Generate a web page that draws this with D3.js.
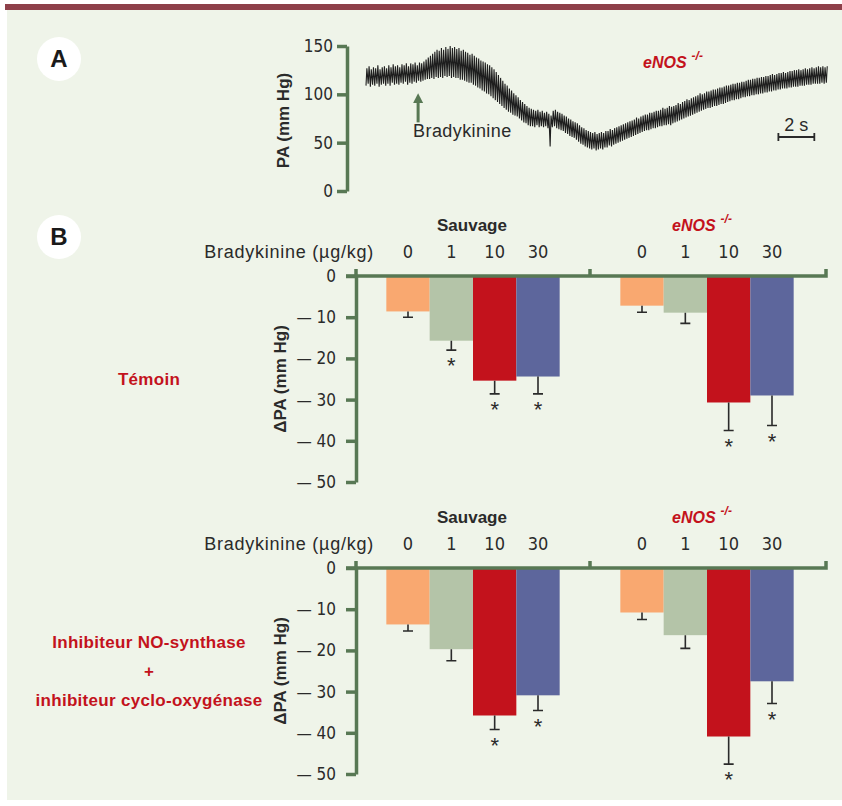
<!DOCTYPE html>
<html>
<head>
<meta charset="utf-8">
<script src="https://cdn.jsdelivr.net/npm/d3@7"></script>
<style>
  body { margin: 0; background: #fff; }
  text { font-family: "Liberation Sans", Arial, sans-serif; }
  .num { font-family: "Liberation Sans Narrow", "DejaVu Sans Condensed", sans-serif; }
</style>
</head>
<body>
<div id="chart"></div>
<script>
// --- Panel A : blood pressure trace, one systolic / diastolic pair per beat (mm Hg)
const beatPeriod = 0.122; // s
const paSys = [127,129,126,128,127,130,126,128,129,127, 130,128,131,129,130,128,131,130,132,129,
  132,131,133,130,133,132,134,136,138,140, 142,144,146,145,148,146,149,147,150,148,
  149,147,148,145,146,144,143,141,142,140, 138,137,135,134,133,131,130,128,126,123,
  120,117,114,111,109,106,104,101,99,97, 94,92,90,88,86,85,84,83,84,82,
  83,81,82,80,78,83,84,82,81,80, 78,77,75,74,72,71,70,68,66,65,
  63,62,61,60,61,59,60,61,60,62, 62,64,63,65,66,67,68,69,70,71,
  72,73,74,76,75,77,78,79,79,81, 81,82,83,83,84,86,85,86,88,87,
  88,89,91,90,92,93,95,94,96,97, 98,99,101,100,101,103,103,104,105,105,
  106,107,107,108,109,109,110,111,111,112, 112,113,113,114,115,115,116,116,117,117,
  118,118,119,119,120,121,120,121,122,122, 123,122,123,124,124,125,125,126,125,126,
  127,126,127,128,127,128,129,128,129,128,129];
const paDia = [109,111,108,110,109,111,108,110,111,109, 111,109,112,110,111,110,112,111,113,110,
  112,111,113,112,114,113,114,115,116,116, 117,116,118,117,118,117,119,118,119,117,
  118,117,117,115,115,114,113,112,112,110, 109,107,106,104,103,101,100,98,96,94,
  92,90,88,86,84,82,81,79,78,77, 75,73,71,70,68,67,67,66,68,66,
  67,66,67,65,46,66,67,65,64,63, 62,60,59,57,56,55,53,51,49,48,
  46,45,44,43,44,42,43,44,43,45, 45,47,46,48,49,50,51,52,53,54,
  55,56,57,58,59,60,61,62,63,63, 64,65,65,66,67,67,68,68,69,68,
  70,71,72,73,74,75,76,77,78,79, 80,81,82,83,84,85,86,86,87,88,
  88,89,90,90,91,92,93,94,94,95, 95,96,97,97,98,98,99,99,100,100,
  101,101,102,102,103,103,104,104,105,105, 106,106,106,107,107,108,108,108,109,109,
  109,110,110,110,111,111,111,111,112,111,112];
const paTicks = [0, 50, 100, 150];

// --- Panel B : fall in blood pressure (mm Hg), mean and SEM
const doses = ["0", "1", "10", "30"];
const strains = ["Sauvage", "eNOS"];
const bTicks = [0, -10, -20, -30, -40, -50];
const doseColors = ["#f9a870", "#b4c4a8", "#c3121c", "#5d669c"];

const temoinSauvage = [-8.6, -15.7, -25.4, -24.4];
const temoinSauvageSem = [1.4, 2.3, 3.2, 4.2];
const temoinEnos = [-7.2, -8.9, -30.7, -29.0];
const temoinEnosSem = [1.6, 2.6, 6.8, 7.3];
const temoinSauvageStar = [false, true, true, true];
const temoinEnosStar = [false, false, true, true];

const inhibSauvage = [-13.7, -19.7, -35.8, -30.9];
const inhibSauvageSem = [1.6, 2.8, 3.4, 3.7];
const inhibEnos = [-10.8, -16.3, -40.9, -27.5];
const inhibEnosSem = [1.7, 3.2, 6.7, 5.4];
const inhibSauvageStar = [false, false, true, true];
const inhibEnosStar = [false, false, true, true];

const green = "#587854", red = "#c3121c", ink = "#2a2a2a";

const svg = d3.select("#chart").append("svg")
  .attr("width", 842).attr("height", 806);

svg.append("rect").attr("width", 842).attr("height", 806).attr("fill", "#fff");
svg.append("rect").attr("x", 7).attr("y", 10).attr("width", 835).attr("height", 790).attr("fill", "#eff4e9");
svg.append("rect").attr("x", 5).attr("y", 4).attr("width", 837).attr("height", 6).attr("fill", "#8e404a");

// letter badges
[["A", 59], ["B", 237]].forEach(([l, cy]) => {
  svg.append("circle").attr("cx", 59).attr("cy", cy).attr("r", 22).attr("fill", "#fff");
  svg.append("text").attr("x", 59).attr("y", cy + 8).attr("text-anchor", "middle")
    .attr("font-size", 24).attr("font-weight", "bold").attr("fill", "#1a1a1a").text(l);
});

function styleAxis(g) {
  g.select(".domain").attr("stroke", green).attr("stroke-width", 3.5);
  g.selectAll(".tick line").attr("stroke", green).attr("stroke-width", 3.5);
  g.selectAll(".tick text").attr("class", "num").attr("font-size", 17).attr("fill", ink);
}

// ---------------- Panel A
const xA = d3.scaleLinear().domain([0, 25.6]).range([366, 826]);
const yA = d3.scaleLinear().domain([0, 150]).range([191, 46]);

svg.append("g").attr("transform", "translate(347,0)")
  .call(d3.axisLeft(yA).tickValues(paTicks).tickSize(10).tickSizeOuter(0).tickPadding(4))
  .call(styleAxis);

svg.append("text").attr("transform", `translate(289,${(yA(0) + yA(150)) / 2 + 2}) rotate(-90)`)
  .attr("text-anchor", "middle").attr("font-size", 17).attr("font-weight", "bold").attr("fill", ink)
  .text("PA (mm Hg)");

const tracePts = [];
paSys.forEach((s, i) => {
  const t = i * beatPeriod;
  tracePts.push([t, paDia[i]], [t + beatPeriod * 0.4, s]);
});
svg.append("path").datum(tracePts)
  .attr("d", d3.line().x(d => xA(d[0])).y(d => yA(d[1])))
  .attr("fill", "none").attr("stroke", "#1e1e1e").attr("stroke-width", 1.1);

// bradykinin injection arrow
const arrowX = xA(2.9);
svg.append("line").attr("x1", arrowX).attr("x2", arrowX).attr("y1", yA(71)).attr("y2", yA(93))
  .attr("stroke", green).attr("stroke-width", 3);
svg.append("path")
  .attr("d", `M${arrowX},${yA(101)}L${arrowX - 5},${yA(91)}L${arrowX + 5},${yA(91)}Z`)
  .attr("fill", green);
svg.append("text").attr("x", arrowX - 5).attr("y", 137).attr("font-size", 18)
  .attr("letter-spacing", 0.4).attr("fill", ink).text("Bradykinine");

function enosLabel(sel, x, y) {
  const t = sel.append("text").attr("x", x).attr("y", y)
    .attr("font-size", 16).attr("font-weight", "bold").attr("font-style", "italic").attr("fill", red);
  t.append("tspan").text("eNOS");
  t.append("tspan").attr("dx", 5).attr("dy", -8).attr("font-size", 12).text("-/-");
}
enosLabel(svg, 643, 68);

// scale bar 2 s
const sb0 = xA(22.95), sb1 = xA(24.95);
svg.append("path").attr("d", `M${sb0},133V141M${sb0},137H${sb1}M${sb1},133V141`)
  .attr("fill", "none").attr("stroke", ink).attr("stroke-width", 1.8);
svg.append("text").attr("x", (sb0 + sb1) / 2).attr("y", 131).attr("text-anchor", "middle")
  .attr("font-size", 18).attr("fill", ink).text("2 s");

// ---------------- Panel B
const xGroup = d3.scaleBand().domain(strains).range([356, 824]);
const xDose = d3.scaleBand().domain(doses).range([0, xGroup.bandwidth()]).paddingInner(0).paddingOuter(0.7);

function drawPanel(zeroY, series, sems, stars, label) {
  const y = d3.scaleLinear().domain([-50, 0]).range([zeroY + 206, zeroY]);
  const g = svg.append("g");

  // headings
  g.append("text").attr("x", xGroup("Sauvage") + xGroup.bandwidth() / 2 - 1).attr("y", zeroY - 45)
    .attr("text-anchor", "middle").attr("font-size", 17).attr("font-weight", "bold").attr("fill", ink)
    .text("Sauvage");
  enosLabel(g, xGroup("eNOS") + xGroup.bandwidth() / 2 - 35, zeroY - 45);

  g.append("text").attr("x", 374).attr("y", zeroY - 18).attr("text-anchor", "end")
    .attr("font-size", 18).attr("letter-spacing", 0.75).attr("fill", ink).text("Bradykinine (µg/kg)");
  strains.forEach(s => {
    g.selectAll(null).data(doses).join("text")
      .attr("class", "num")
      .attr("x", d => xGroup(s) + xDose(d) + xDose.bandwidth() / 2)
      .attr("y", zeroY - 18).attr("text-anchor", "middle")
      .attr("font-size", 18).attr("fill", ink).text(d => d);
  });

  // bars, error bars, stars
  strains.forEach((s, si) => {
    const bx = d => xGroup(s) + xDose(d);
    const cx = d => bx(d) + xDose.bandwidth() / 2;
    g.selectAll(null).data(doses).join("rect")
      .attr("x", d => bx(d)).attr("y", y(0))
      .attr("width", xDose.bandwidth())
      .attr("height", (d, i) => y(series[si][i]) - y(0))
      .attr("fill", (d, i) => doseColors[i]);
    g.selectAll(null).data(doses).join("path")
      .attr("d", (d, i) => {
        const yb = y(series[si][i]), ye = y(series[si][i] - sems[si][i]);
        return `M${cx(d)},${yb}V${ye}M${cx(d) - 5},${ye}H${cx(d) + 5}`;
      })
      .attr("fill", "none").attr("stroke", ink).attr("stroke-width", 1.6);
    g.selectAll(null).data(doses.filter((d, i) => stars[si][i])).join("text")
      .attr("x", d => cx(d))
      .attr("y", d => { const i = doses.indexOf(d); return y(series[si][i] - sems[si][i]) + 23; })
      .attr("text-anchor", "middle").attr("font-size", 22).attr("fill", ink).text("*");
  });

  // axis and frame
  g.append("g").attr("transform", "translate(356,0)")
    .call(d3.axisLeft(y).tickValues(bTicks).tickSize(10).tickSizeOuter(0).tickPadding(10)
      .tickFormat(d => d === 0 ? "0" : "\u2014 " + Math.abs(d)))
    .call(styleAxis);
  g.append("path")
    .attr("d", `M356,${zeroY - 7}V${zeroY}M346,${zeroY}H826M${xGroup("eNOS")},${zeroY - 7}V${zeroY}M826,${zeroY - 7}V${zeroY + 1.75}`)
    .attr("fill", "none").attr("stroke", green).attr("stroke-width", 3.5);

  g.append("text").attr("transform", `translate(286,${zeroY + 103}) rotate(-90)`)
    .attr("text-anchor", "middle").attr("font-size", 17).attr("font-weight", "bold").attr("fill", ink)
    .text("\u0394PA (mm Hg)");

  // condition label on the left
  const n = label.length;
  g.selectAll(null).data(label).join("text")
    .attr("x", 149).attr("y", (d, i) => zeroY + 103 + 6 + (i - (n - 1) / 2) * 29)
    .attr("text-anchor", "middle").attr("font-size", 17).attr("letter-spacing", 0.3)
    .attr("font-weight", "bold").attr("fill", red)
    .text(d => d);
}

drawPanel(276, [temoinSauvage, temoinEnos], [temoinSauvageSem, temoinEnosSem],
  [temoinSauvageStar, temoinEnosStar], ["Témoin"]);
drawPanel(568, [inhibSauvage, inhibEnos], [inhibSauvageSem, inhibEnosSem],
  [inhibSauvageStar, inhibEnosStar], ["Inhibiteur NO-synthase", "+", "inhibiteur cyclo-oxygénase"]);
</script>
</body>
</html>
